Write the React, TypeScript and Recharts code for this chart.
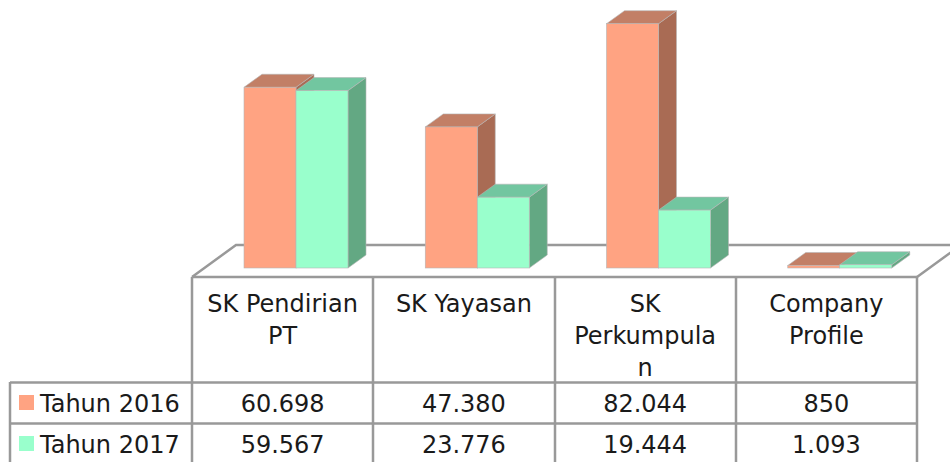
import React from 'react';
import { BarChart, Bar, XAxis, YAxis, Customized } from 'recharts';

const categories = ['SK Pendirian PT', 'SK Yayasan', 'SK Perkumpulan', 'Company Profile'];
const categoryLines = [['SK Pendirian', 'PT'], ['SK Yayasan'], ['SK', 'Perkumpula', 'n'], ['Company', 'Profile']];
const tahun2016 = [60698, 47380, 82044, 850];
const tahun2017 = [59567, 23776, 19444, 1093];
const seriesNames = ['Tahun 2016', 'Tahun 2017'];

const chartData = categories.map((name, i) => ({ name, tahun2016: tahun2016[i], tahun2017: tahun2017[i] }));

const FONT = '"DejaVu Sans", sans-serif';
const FONT_SIZE = 24;
const TEXT = '#1a1a1a';
const LINE = '#999999';
const DEPTH_X = 18;
const DEPTH_Y = 13;
// the bars sit on the middle of the floor, so the table starts a little to the left of them
const TABLE_SHIFT = 13;

const formatValue = (v: number) => String(v).replace(/\B(?=(\d{3})+$)/g, '.');

const Bar3D = (props: any) => {
  const { x, y, width, height, fill, topFill, sideFill } = props;
  const right = x + width;
  const bottom = y + height;
  return (
    <g stroke="#b5b5b5" strokeWidth={0.6}>
      <path d={`M${right},${y} L${right + DEPTH_X},${y - DEPTH_Y} L${right + DEPTH_X},${bottom - DEPTH_Y} L${right},${bottom} Z`} fill={sideFill} />
      <path d={`M${x},${y} L${x + DEPTH_X},${y - DEPTH_Y} L${right + DEPTH_X},${y - DEPTH_Y} L${right},${y} Z`} fill={topFill} />
      <rect x={x} y={y} width={width} height={height} fill={fill} />
    </g>
  );
};

const CategoryTick = (props: any) => {
  const { x, index } = props;
  const cx = x - TABLE_SHIFT;
  return (
    <g fontFamily={FONT} fontSize={FONT_SIZE} fill={TEXT} textAnchor="middle">
      {categoryLines[index].map((line, i) => (
        <text key={line} x={cx} y={312 + i * 32} fill={TEXT}>{line}</text>
      ))}
      <text x={cx} y={412} fill={TEXT}>{formatValue(tahun2016[index])}</text>
      <text x={cx} y={453} fill={TEXT}>{formatValue(tahun2017[index])}</text>
    </g>
  );
};

const FloorAndGrid = () => (
  <g stroke={LINE} strokeWidth={2.5} fill="none">
    <path d="M192,277 L236,245 L961,245 L917,277" />
    <path d="M192,277 H917 M10,382.5 H917 M10,423.5 H917" />
    <path d="M192,277 V462 M373,277 V462 M555,277 V462 M736,277 V462 M917,277 V462 M10,382 V462" />
  </g>
);

const LegendRows = () => (
  <g fontFamily={FONT} fontSize={FONT_SIZE}>
    <rect x={19} y={395} width={15} height={15} fill="#FFA382" />
    <text x={40} y={412} fill={TEXT}>{seriesNames[0]}</text>
    <rect x={19} y={436} width={15} height={15} fill="#99FFCC" />
    <text x={40} y={453} fill={TEXT}>{seriesNames[1]}</text>
  </g>
);

export default function App() {
  return (
    <div style={{ position: 'absolute', left: 0, top: 0, width: 950, height: 462, overflow: 'hidden', background: '#fff' }}>
      <BarChart
        width={950}
        height={462}
        data={chartData}
        margin={{ top: 0, right: 20, bottom: 0, left: 205 }}
        barSize={52}
        barGap={0}
      >
        <Customized component={FloorAndGrid} />
        <XAxis dataKey="name" height={194} interval={0} axisLine={false} tickLine={false} tick={<CategoryTick />} />
        <YAxis hide domain={[0, 90000]} />
        <Bar
          dataKey="tahun2016"
          fill="#FFA382"
          isAnimationActive={false}
          shape={(p: any) => <Bar3D {...p} fill="#FFA382" topFill="#C27F66" sideFill="#A96B54" />}
        />
        <Bar
          dataKey="tahun2017"
          fill="#99FFCC"
          isAnimationActive={false}
          shape={(p: any) => <Bar3D {...p} fill="#99FFCC" topFill="#72C6A0" sideFill="#63A883" />}
        />
        <Customized component={LegendRows} />
      </BarChart>
    </div>
  );
}
